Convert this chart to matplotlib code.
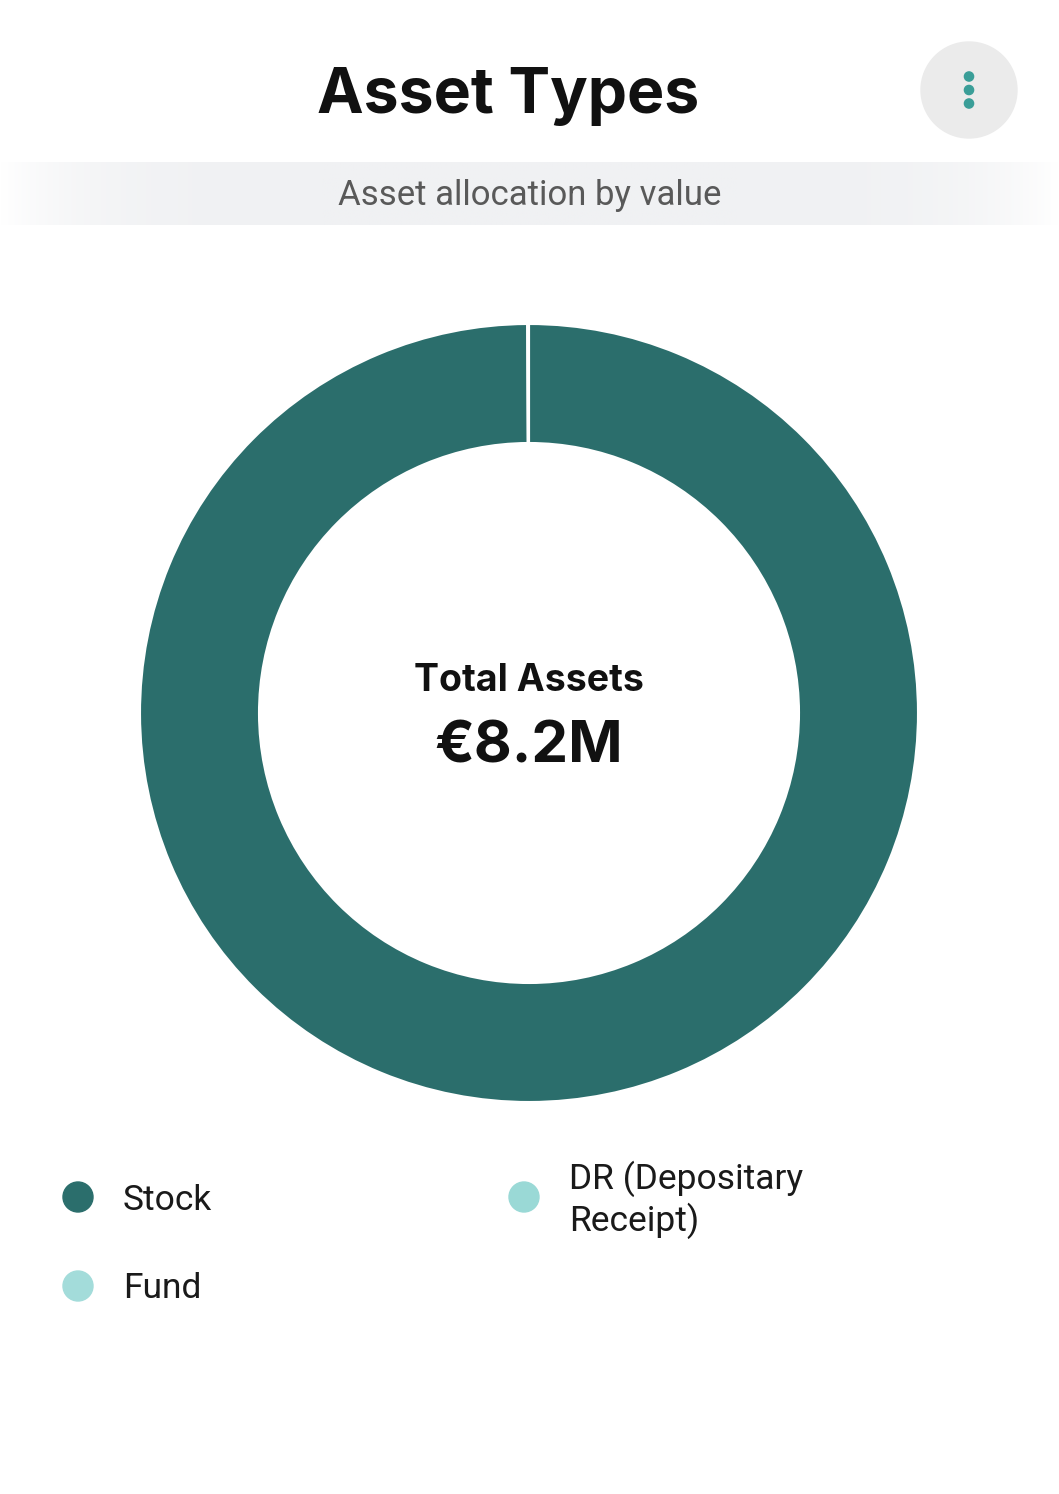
import numpy as np
import matplotlib
matplotlib.use("Agg")
import matplotlib.pyplot as plt
from matplotlib.patches import Circle
from matplotlib.colors import LinearSegmentedColormap

# ---- data ----
categories = ["Stock", "Fund", "DR (Depositary Receipt)"]
values_m = [8.19, 0.004, 0.002]          # € millions
colors = ["#2B6E6C", "#A3DCDA", "#9AD9D6"]
title = "Asset Types"
subtitle = "Asset allocation by value"
center_label = "Total Assets"
center_value = "€8.2M"
legend_labels = ["Stock", "Fund", "DR (Depositary\nReceipt)"]

W, H = 1059, 1494
fig = plt.figure(figsize=(W / 100, H / 100), dpi=100)
fig.patch.set_facecolor("white")

# background axes in pixel coordinates
bg = fig.add_axes([0, 0, 1, 1])
bg.set_xlim(0, W)
bg.set_ylim(H, 0)
bg.axis("off")

# subtitle band with soft horizontal fade
prof = np.linspace(-1, 1, 400)
alpha = np.clip(1 - np.abs(prof) ** 6, 0, 1)
band = np.tile(alpha, (2, 1))
cmap = LinearSegmentedColormap.from_list("band", ["#FFFFFF", "#F0F1F3"])
bg.imshow(band, cmap=cmap, vmin=0, vmax=1, extent=[0, W, 225, 162], aspect="auto", zorder=0)
bg.set_xlim(0, W)
bg.set_ylim(H, 0)

bg.text(508, 97, title, ha="center", va="center", fontsize=45,
        fontweight="bold", family=["Inter", "DejaVu Sans"], color="#111111")
bg.text(W / 2, 196, subtitle, ha="center", va="center", fontsize=25,
        family=["Roboto", "DejaVu Sans"], color="#595959")

# menu button
bg.add_patch(Circle((969, 90), 48, color="#EBEBEB", zorder=2))
for dy in (-13.5, 0, 13.5):
    bg.add_patch(Circle((969, 90 + dy), 4.6, color="#3A9E98", zorder=3))

# legend
leg_pos = [(78, 1197), (78, 1286), (524, 1197)]
for (x, y), lab, c in zip(leg_pos, legend_labels, colors):
    bg.add_patch(Circle((x, y), 15, color=c, zorder=2))
    bg.text(x + 45, y + 3, lab, ha="left", va="center", fontsize=25.5,
            family=["Roboto", "DejaVu Sans"], color="#1A1A1A", linespacing=1.2)

# donut
cx, cy, R = 529, 713, 389
size = 800
lim = size / 2 / R
pax = fig.add_axes([(cx - size / 2) / W, (H - cy - size / 2) / H, size / W, size / H])
pax.pie(values_m, colors=colors, startangle=90, counterclock=False, radius=1,
        wedgeprops=dict(width=1 - 270 / 389, edgecolor="white", linewidth=1.5))
pax.set_xlim(-lim, lim)
pax.set_ylim(-lim, lim)
pax.set_aspect("equal")
pax.axis("off")

pax.text(0, 0.082, center_label, ha="center", va="center", fontsize=27,
         fontweight="bold", family=["Inter", "DejaVu Sans"], color="#111111")
pax.text(0, -0.088, center_value, ha="center", va="center", fontsize=42,
         fontweight="bold", family=["Inter", "DejaVu Sans"], color="#111111")

fig.savefig("out.png", dpi=100, facecolor="white")
